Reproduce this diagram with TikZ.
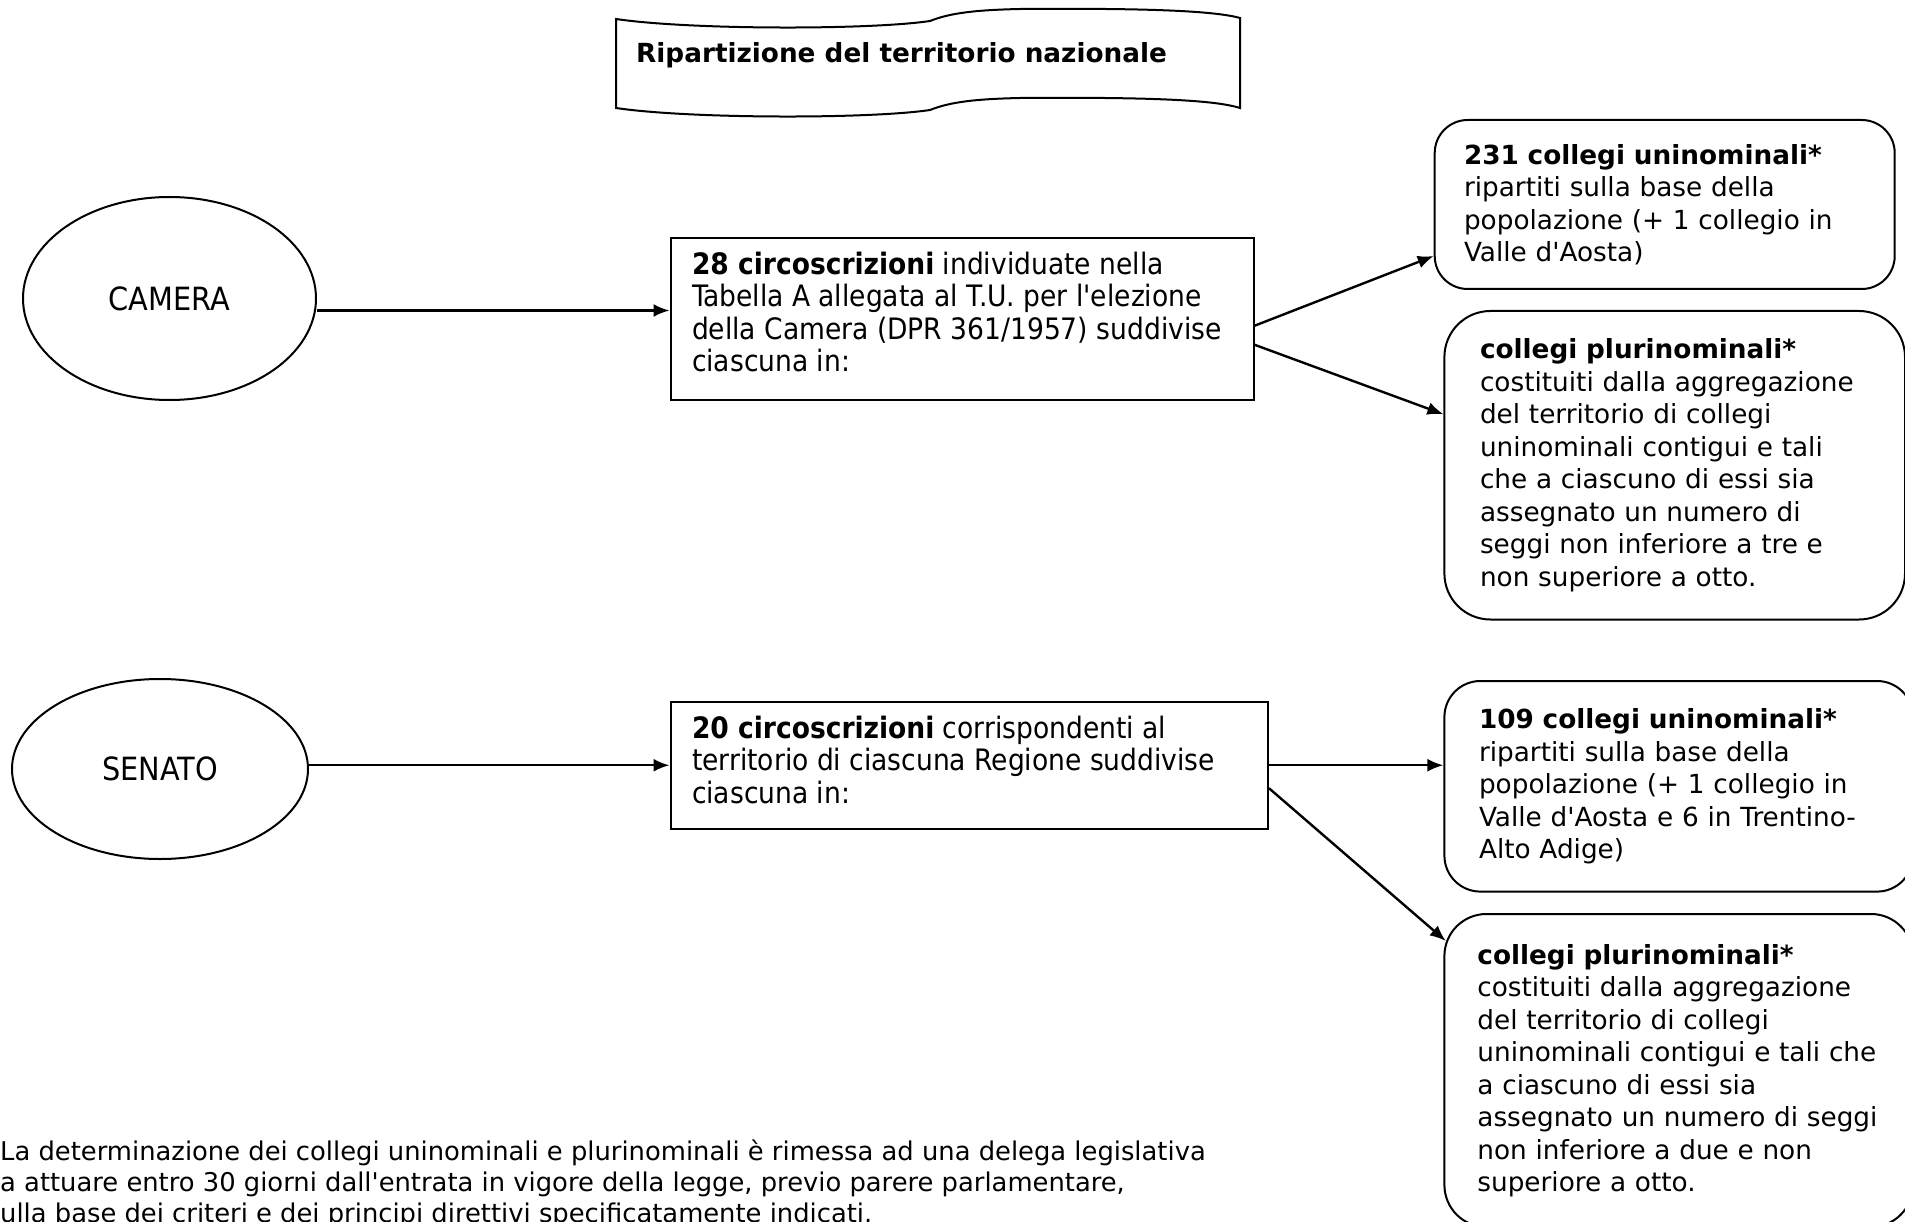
\documentclass[tikz,border=0pt]{standalone}
\usepackage{fontspec}
\setmainfont{DejaVu Sans}
\IfFontExistsTF{DejaVu Sans Condensed}
  {\newfontfamily\condensato{DejaVu Sans Condensed}}
  {\newfontfamily\condensato[FakeStretch=0.9]{DejaVu Sans}}
\newcommand{\ap}{\textquotesingle}
\usetikzlibrary{shapes.geometric,arrows.meta}

\begin{document}
\begin{tikzpicture}[x=1pt, y=-1pt,
        ramo/.style={ellipse, draw=black, line width=2pt, inner sep=0pt,
            font=\condensato\fontsize{32}{36}\selectfont},
        riquadro/.style={rectangle, draw=black, line width=2pt, anchor=north west,
            inner xsep=21.5pt, inner ysep=14pt,
            font=\condensato\fontsize{29.5}{32.5}\selectfont},
        collegio/.style={rectangle, draw=black, line width=2pt, anchor=north west,
            align=left, inner ysep=0pt,
            font=\fontsize{26.3}{32.5}\selectfont},
        freccia/.style={line width=2.4pt, -{Latex[length=16pt, width=13pt]}},
    ]
    \fill[white] (0,0) rectangle (1905,1222);
    \useasboundingbox (0,0) rectangle (1905,1222);

    \draw[line width=2pt] (616,19) .. controls (690,30) and (870,30) .. (930,21)
        .. controls (950,13) and (975,10) .. (1020,9)
        .. controls (1150,8) and (1215,11) .. (1240,18)
        -- (1240,108)
        .. controls (1215,100) and (1150,97) .. (1020,98)
        .. controls (975,99) and (950,102) .. (930,110)
        .. controls (870,119) and (690,119) .. (616,108) -- cycle;
    \node[anchor=base west, inner sep=0pt, font=\bfseries\fontsize{26.3}{30}\selectfont]
        (titolo) at (636,63) {Ripartizione del territorio nazionale};

    \node[ramo, minimum width=293pt, minimum height=203pt] (camera) at (169.5,298.5) {CAMERA};
    \node[ramo, minimum width=296pt, minimum height=180pt] (senato) at (160,769) {SENATO};

    \node[riquadro] (cb) at (669.5,237) {\parbox[c][133.5pt][t]{540pt}{%
        \textbf{28 circoscrizioni} individuate nella\\
        Tabella A allegata al T.U. per l\ap elezione\\
        della Camera (DPR 361/1957) suddivise\\
        ciascuna in:}};
    \node[riquadro] (sb) at (669.5,701) {\parbox[c][98.5pt][t]{554.5pt}{%
        \textbf{20 circoscrizioni} corrispondenti al\\
        territorio di ciascuna Regione suddivise\\
        ciascuna in:}};

    \node[collegio, rounded corners=33pt, text width=401.4pt, inner xsep=29.3pt,
        minimum height=169pt] (cu) at (1433.7,119)
        {\textbf{231 collegi uninominali*}\\ ripartiti sulla base della\\
         popolazione (+ 1 collegio in\\ Valle d\ap Aosta)};
    \node[collegio, rounded corners=46pt, text width=389.4pt, inner xsep=35.6pt,
        minimum height=308.5pt] (cp) at (1443.4,310)
        {\textbf{collegi plurinominali*}\\ costituiti dalla aggregazione\\
         del territorio di collegi\\ uninominali contigui e tali\\
         che a ciascuno di essi sia\\ assegnato un numero di\\
         seggi non inferiore a tre e\\ non superiore a otto.};
    \node[collegio, rounded corners=36pt, text width=399.4pt, inner xsep=34.6pt,
        minimum height=210.6pt] (su) at (1443.4,680)
        {\textbf{109 collegi uninominali*}\\ ripartiti sulla base della\\
         popolazione (+ 1 collegio in\\ Valle d\ap Aosta e 6 in Trentino-\\
         Alto Adige)};
    \node[collegio, rounded corners=42pt, text width=402.6pt, inner xsep=33pt,
        minimum height=313pt] (sp) at (1443.4,913)
        {\textbf{collegi plurinominali*}\\ costituiti dalla aggregazione\\
         del territorio di collegi\\ uninominali contigui e tali che\\
         a ciascuno di essi sia\\ assegnato un numero di seggi\\
         non inferiore a due e non\\ superiore a otto.};

    \node[anchor=north west, inner sep=0pt, align=left, font=\fontsize{25.8}{31}\selectfont]
        (nota) at (0,1140)
        {La determinazione dei collegi uninominali e plurinominali è rimessa ad una delega legislativa\\
         a attuare entro 30 giorni dall\ap entrata in vigore della legge, previo parere parlamentare,\\
         ulla base dei criteri e dei principi direttivi specificatamente indicati.};

    \coordinate (partenza) at ([yshift=-12pt]camera.east);
    \draw[freccia] (partenza) -- (partenza -| cb.west);
    \draw[freccia] ([yshift=-7pt]cb.east) -- ([yshift=-51.5pt]cu.west);
    \draw[freccia] ([yshift=-26pt]cb.east) -- ([yshift=51pt]cp.west);
    \draw[freccia] (senato.east |- sb.west) -- (sb.west);
    \draw[freccia] (sb.east) -- (sb.east -| su.west);
    \draw[freccia] ([yshift=-23pt]sb.east) -- ([xshift=2.4pt, yshift=-28pt]sp.north west);
\end{tikzpicture}
\end{document}
